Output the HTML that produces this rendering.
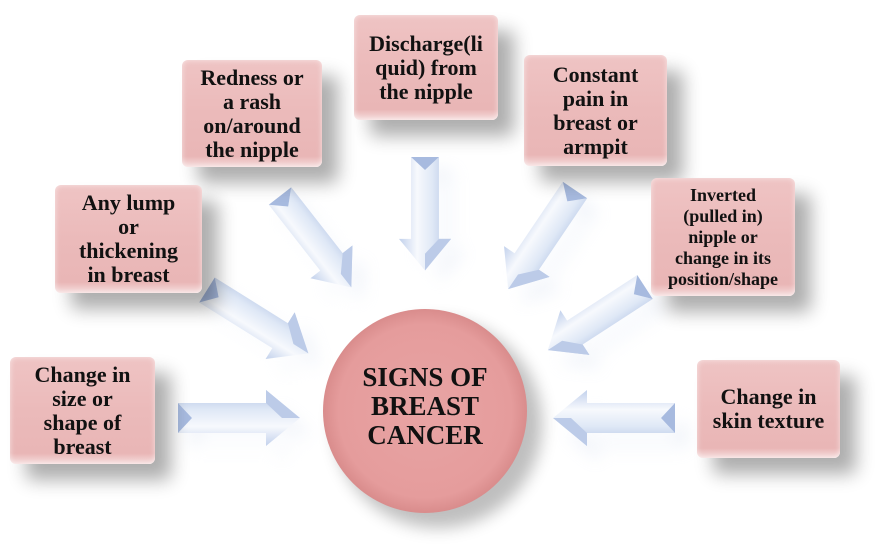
<!DOCTYPE html>
<html><head><meta charset="utf-8">
<style>
html,body{margin:0;padding:0;background:#fff;}
body{width:880px;height:547px;position:relative;overflow:hidden;font-family:"Liberation Serif","Times New Roman",serif;}
.b{position:absolute;display:flex;align-items:center;justify-content:center;text-align:center;font-weight:bold;color:#111;font-size:22px;line-height:24px;border-radius:6px;
background:linear-gradient(180deg,#efc4c4 0%,#ebbaba 50%,#e9b6b6 90%,#f6dede 100%);
box-shadow:16px 16px 18px rgba(0,0,0,0.32), inset 0 0 6px rgba(255,255,255,0.6);}
svg{position:absolute;left:0;top:0;}
</style></head><body>
<svg width="880" height="547" viewBox="0 0 880 547">
<defs>
<linearGradient id="ag" x1="0" y1="0" x2="0" y2="1">
<stop offset="0" stop-color="#b0c2e4"/><stop offset="0.35" stop-color="#dfe8f6"/><stop offset="0.65" stop-color="#f7f9fd"/><stop offset="1" stop-color="#c2d1ec"/>
</linearGradient>
<radialGradient id="cg" cx="0.5" cy="0.5" r="0.5">
<stop offset="0" stop-color="#e8a4a4"/><stop offset="0.85" stop-color="#e59c9c"/><stop offset="1" stop-color="#d98c8c"/>
</radialGradient>
<filter id="sh" x="-50%" y="-50%" width="200%" height="200%"><feGaussianBlur stdDeviation="8"/></filter>
<g id="ar">
<polygon points="0,-15 88,-15 88,-28 122,0 88,28 88,15 0,15 14,0" fill="url(#ag)"/>
<polygon points="0,-15 14,0 0,15" fill="#a7badf"/>
<polygon points="88,-28 122,0 104,0 88,-15" fill="#bccbe8"/>
</g>
</defs>
<circle cx="438" cy="424" r="104" fill="#000" opacity="0.25" filter="url(#sh)"/>
<g opacity="0.22" filter="url(#sh)">
<use href="#ar" transform="translate(190,434)"/>
<use href="#ar" transform="translate(687,434) rotate(180)"/>
<use href="#ar" transform="translate(440,170) rotate(90) scale(0.92)"/>
<use href="#ar" transform="translate(219,304) rotate(32) scale(0.98)"/>
<use href="#ar" transform="translate(292,210) rotate(52) scale(0.95)"/>
<use href="#ar" transform="translate(587,204) rotate(124) scale(0.98)"/>
<use href="#ar" transform="translate(657,301) rotate(147) scale(0.95)"/>
</g>
<circle cx="425" cy="411" r="102" fill="url(#cg)"/>
<use href="#ar" transform="translate(178,418)"/>
<use href="#ar" transform="translate(675,418) rotate(180)"/>
<use href="#ar" transform="translate(425,157) rotate(90) scale(0.93)"/>
<use href="#ar" transform="translate(207,290) rotate(32) scale(0.98)"/>
<use href="#ar" transform="translate(280,196) rotate(52) scale(0.95)"/>
<use href="#ar" transform="translate(575,190) rotate(124) scale(0.98)"/>
<use href="#ar" transform="translate(645,287) rotate(147) scale(0.95)"/>
<g font-family="Liberation Serif, Times New Roman, serif" font-weight="bold" font-size="27" fill="#111" text-anchor="middle">
<text x="425" y="386">SIGNS OF</text>
<text x="425" y="415">BREAST</text>
<text x="425" y="444">CANCER</text>
</g>
</svg>
<div class="b" style="left:182px;top:60px;width:140px;height:107px;">Redness or<br>a rash<br>on/around<br>the nipple</div>
<div class="b" style="left:354px;top:15px;width:144px;height:105px;">Discharge(li<br>quid) from<br>the nipple</div>
<div class="b" style="left:524px;top:55px;width:143px;height:111px;">Constant<br>pain in<br>breast or<br>armpit</div>
<div class="b" style="left:651px;top:178px;width:144px;height:118px;font-size:18px;line-height:21px;">Inverted<br>(pulled in)<br>nipple or<br>change in its<br>position/shape</div>
<div class="b" style="left:55px;top:185px;width:147px;height:108px;">Any lump<br>or<br>thickening<br>in breast</div>
<div class="b" style="left:10px;top:357px;width:145px;height:107px;">Change in<br>size or<br>shape of<br>breast</div>
<div class="b" style="left:697px;top:360px;width:143px;height:98px;">Change in<br>skin texture</div>
</body></html>
